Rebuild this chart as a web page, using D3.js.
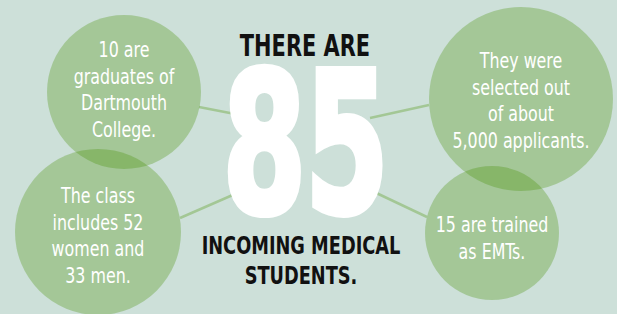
<!DOCTYPE html>
<html>
<head>
<meta charset="utf-8">
<script src="https://cdn.jsdelivr.net/npm/d3@7"></script>
<style>
  body { margin: 0; background: #cde0d9; }
  svg { display: block; }
</style>
</head>
<body>
<svg id="chart"></svg>
<script>
// Data
const headline = "85";
const headerTop = "THERE ARE";
const headerBottom = ["INCOMING MEDICAL", "STUDENTS."];
const facts = [
  ["10 are", "graduates of", "Dartmouth", "College."],
  ["The class", "includes 52", "women and", "33 men."],
  ["They were", "selected out", "of about", "5,000 applicants."],
  ["15 are trained", "as EMTs."]
];

// Layout (bubble positions, connector ends, first text baseline)
const bubbles = [
  { cx: 124, cy: 92,  r: 77, line: [[199, 107], [235, 114]], textY: 57 },
  { cx: 98,  cy: 232, r: 83, line: [[180, 218], [235, 194]], textY: 203 },
  { cx: 521, cy: 99,  r: 92, line: [[429, 105], [370, 118]], textY: 68 },
  { cx: 492, cy: 233, r: 67, line: [[427, 217], [370, 190]], textY: 232 }
];

const width = 617, height = 314;
const lineHeight = 26.7;
const narrow = "'DejaVu Sans Condensed', 'DejaVu Sans', sans-serif";

const svg = d3.select('#chart')
  .attr('width', width)
  .attr('height', height);

svg.append('rect')
  .attr('width', width)
  .attr('height', height)
  .attr('fill', '#cde0d9');

// Connectors
svg.append('g')
  .selectAll('line')
  .data(bubbles)
  .enter()
  .append('line')
  .attr('x1', d => d.line[0][0])
  .attr('y1', d => d.line[0][1])
  .attr('x2', d => d.line[1][0])
  .attr('y2', d => d.line[1][1])
  .attr('stroke', '#a3c795')
  .attr('stroke-width', 2.5);

// Bubbles
svg.append('g')
  .selectAll('circle')
  .data(bubbles)
  .enter()
  .append('circle')
  .attr('cx', d => d.cx)
  .attr('cy', d => d.cy)
  .attr('r', d => d.r)
  .attr('fill', 'rgb(68,141,0)')
  .attr('fill-opacity', 0.3);

// Bubble texts
let factG = svg.append('g')
  .selectAll('g')
  .data(facts)
  .enter()
  .append('g')
  .attr('transform', (d, i) => `translate(${bubbles[i].cx},${bubbles[i].textY}) scale(0.84,1)`);

factG.selectAll('text')
  .data(d => d)
  .enter()
  .append('text')
  .attr('x', 0)
  .attr('y', (d, i) => i * lineHeight)
  .attr('text-anchor', 'middle')
  .style('font-family', narrow)
  .style('font-size', '21px')
  .attr('fill', '#ffffff')
  .text(d => d);

// Big number
svg.append('text')
  .attr('transform', `translate(305,212) scale(0.68,1)`)
  .attr('text-anchor', 'middle')
  .style('font-family', narrow)
  .style('font-weight', 'bold')
  .style('font-size', '197px')
  .attr('fill', '#ffffff')
  .attr('stroke', '#ffffff')
  .attr('stroke-width', 6)
  .attr('letter-spacing', '-2px')
  .text(headline);

// Headers
svg.append('text')
  .attr('transform', `translate(305,56) scale(0.75,1)`)
  .attr('text-anchor', 'middle')
  .style('font-family', narrow)
  .style('font-weight', 'bold')
  .style('font-size', '31px')
  .attr('fill', '#111111')
  .text(headerTop);

svg.append('g')
  .attr('transform', `translate(301,254) scale(0.79,1)`)
  .selectAll('text')
  .data(headerBottom)
  .enter()
  .append('text')
  .attr('x', 0)
  .attr('y', (d, i) => i * 30)
  .attr('text-anchor', 'middle')
  .style('font-family', narrow)
  .style('font-weight', 'bold')
  .style('font-size', '25px')
  .attr('fill', '#111111')
  .text(d => d);
</script>
</body>
</html>
